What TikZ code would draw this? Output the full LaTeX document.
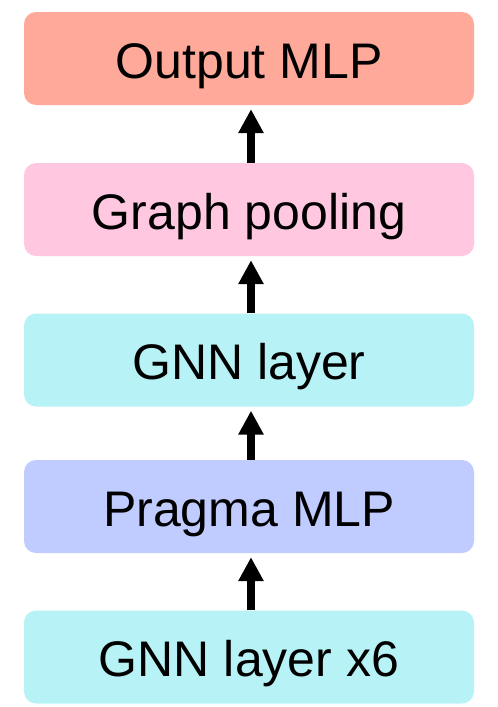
\documentclass[tikz,border=0pt]{standalone}
\usepackage{fontspec}
\setmainfont{Liberation Sans}
\usetikzlibrary{arrows.meta}
\definecolor{cOut}{HTML}{FFA99A}
\definecolor{cPool}{HTML}{FFC8E0}
\definecolor{cGnn}{HTML}{B7F2F6}
\definecolor{cPrag}{HTML}{C0CBFF}
\begin{document}
\begin{tikzpicture}[x=1pt,y=-1pt,
  blk/.style={rounded corners=12pt, minimum width=450pt, minimum height=93pt, inner sep=0pt,
    text height=49pt, text depth=10pt, font=\fontsize{50}{60}\selectfont},
  uparrow/.style={line width=8pt, -{Triangle[length=24pt,width=24pt]}, shorten >=4pt}]
\useasboundingbox (0,0) rectangle (498,707);
\node[blk, fill=cOut]  (out)  at (249,58.5)  {Output MLP};
\node[blk, fill=cPool] (pool) at (249,209.5) {Graph pooling};
\node[blk, fill=cGnn]  (gnn)  at (249,360)   {GNN layer};
\node[blk, fill=cPrag] (prag) at (249,506.5) {Pragma MLP};
\node[blk, fill=cGnn]  (gnn6) at (249,657)   {GNN layer x6};
\draw[uparrow] ([xshift=2pt]pool.north) -- ([xshift=2pt]out.south);
\draw[uparrow] ([xshift=2pt]gnn.north) -- ([xshift=2pt]pool.south);
\draw[uparrow] ([xshift=2pt]prag.north) -- ([xshift=2pt]gnn.south);
\draw[uparrow] ([xshift=2pt]gnn6.north) -- ([xshift=2pt]prag.south);
\end{tikzpicture}
\end{document}
